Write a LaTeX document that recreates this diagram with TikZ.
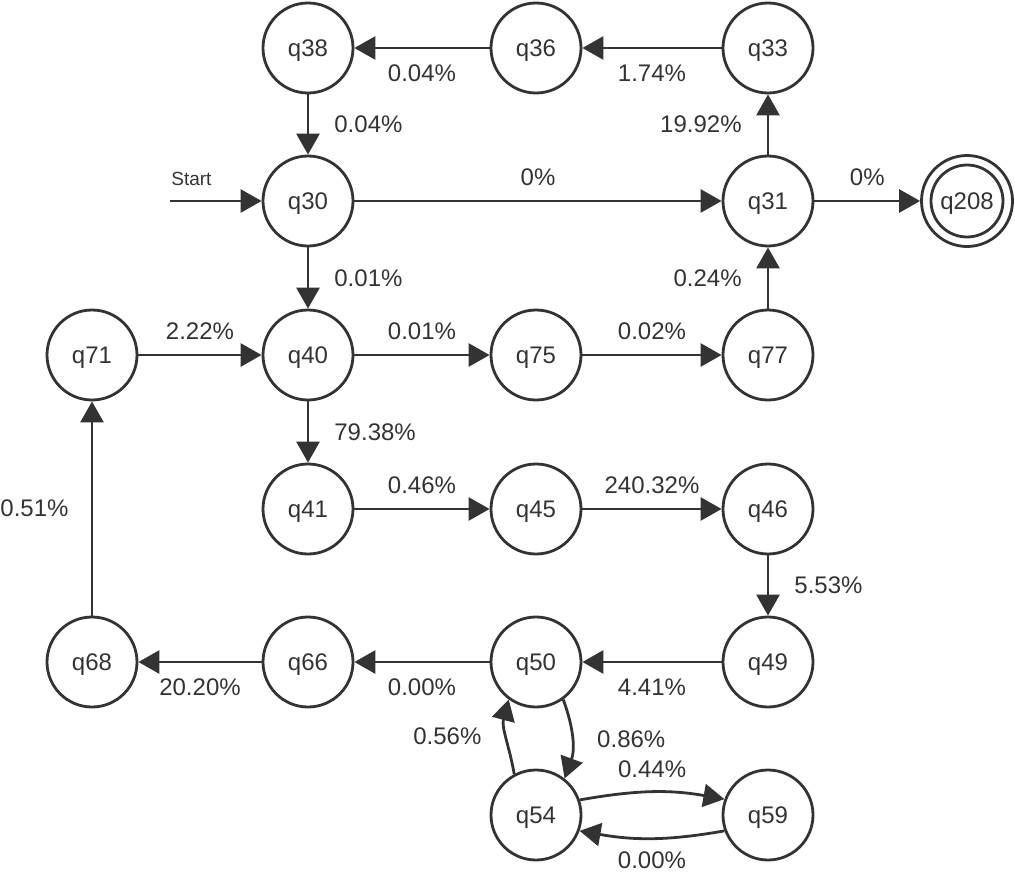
\documentclass[tikz,border=0pt]{standalone}
\usepackage{fontspec}
\setmainfont{Liberation Sans}
\usetikzlibrary{arrows.meta}
\definecolor{ink}{HTML}{333333}
\begin{document}
\begin{tikzpicture}[x=1pt,y=-1pt,
  state/.style={circle, draw=ink, line width=2.8pt, minimum size=90pt, inner sep=0pt,
    text=ink, text depth=0pt, font=\fontsize{24}{28}\selectfont},
  edge/.style={draw=ink, line width=2.8pt, -{Triangle[length=21pt,width=23pt]}},
  lbl/.style={text=ink, inner sep=0pt, font=\fontsize{24}{28}\selectfont},
  ab/.style={lbl, midway, yshift=24pt},
  be/.style={lbl, midway, yshift=-25pt},
  rt/.style={lbl, midway, anchor=west, xshift=25pt},
  lf/.style={lbl, midway, anchor=east, xshift=-25pt},
]
\useasboundingbox (0,0) rectangle (1015,872);

% states
\node[state] (q38) at (308,48) {q38};
\node[state] (q36) at (536,48) {q36};
\node[state] (q33) at (768,48) {q33};
\node[state] (q30) at (308,201) {q30};
\node[state] (q31) at (768,201) {q31};
\node[state, minimum size=91pt] (q208) at (967,201) {q208};
\draw[draw=ink, line width=2.8pt] (q208.center) circle[radius=36pt];
\node[state] (q71) at (92,355) {q71};
\node[state] (q40) at (308,355) {q40};
\node[state] (q75) at (536,355) {q75};
\node[state] (q77) at (768,355) {q77};
\node[state] (q41) at (308,509) {q41};
\node[state] (q45) at (536,509) {q45};
\node[state] (q46) at (768,509) {q46};
\node[state] (q68) at (92,662) {q68};
\node[state] (q66) at (308,662) {q66};
\node[state] (q50) at (536,662) {q50};
\node[state] (q49) at (768,662) {q49};
\node[state] (q54) at (536,815) {q54};
\node[state] (q59) at (768,815) {q59};

% initial arrow
\coordinate (start) at (170,201);
\draw[edge] (start) -- node[lbl, pos=0, anchor=west, yshift=22pt, font=\fontsize{19}{23}\selectfont] {Start} (q30);

% transitions
\draw[edge] (q36) -- node[be] {0.04\%} (q38);
\draw[edge] (q33) -- node[be] {1.74\%} (q36);
\draw[edge] (q38) -- node[rt] {0.04\%} (q30);
\draw[edge] (q30) -- node[ab] {0\%} (q31);
\draw[edge] (q31) -- node[lf] {19.92\%} (q33);
\draw[edge] (q31) -- node[ab] {0\%} (q208);
\draw[edge] (q30) -- node[rt] {0.01\%} (q40);
\draw[edge] (q77) -- node[lf] {0.24\%} (q31);
\draw[edge] (q71) -- node[ab] {2.22\%} (q40);
\draw[edge] (q40) -- node[ab] {0.01\%} (q75);
\draw[edge] (q75) -- node[ab] {0.02\%} (q77);
\draw[edge] (q40) -- node[rt] {79.38\%} (q41);
\draw[edge] (q41) -- node[ab] {0.46\%} (q45);
\draw[edge] (q45) -- node[ab] {240.32\%} (q46);
\draw[edge] (q46) -- node[rt] {5.53\%} (q49);
\draw[edge] (q49) -- node[be] {4.41\%} (q50);
\draw[edge] (q50) -- node[be] {0.00\%} (q66);
\draw[edge] (q66) -- node[be] {20.20\%} (q68);
\draw[edge] (q68) -- node[lbl, midway, xshift=-57.5pt] {0.51\%} (q71);

% curved transitions between q50, q54 and q59
\draw[edge] (q50.-54) to[out=-70, in=70] node[lbl, midway, anchor=west, xshift=24pt] {0.86\%} (q54.52);
\draw[edge] (q54.118) to[out=100, in=-105] node[lbl, midway, anchor=east, xshift=-24pt] {0.56\%} (q50.-126);
\draw[edge] (q54.19) to[out=10, in=170] node[lbl, midway, yshift=23pt] {0.44\%} (q59.160);
\draw[edge] (q59.-160) to[out=-170, in=-10] node[lbl, midway, yshift=-22pt] {0.00\%} (q54.-20);
\end{tikzpicture}
\end{document}
